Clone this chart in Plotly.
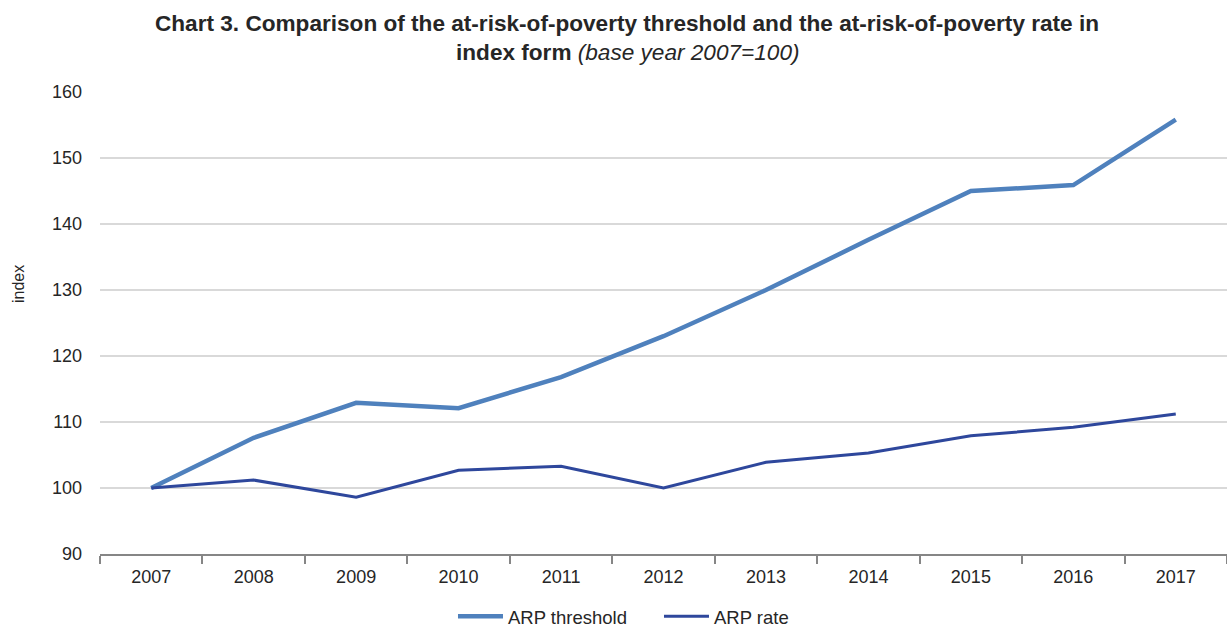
import plotly.graph_objects as go

years = ["2007", "2008", "2009", "2010", "2011", "2012", "2013", "2014", "2015", "2016", "2017"]
arp_threshold = [100.0, 107.6, 112.9, 112.1, 116.8, 123.0, 130.0, 137.6, 145.0, 145.9, 155.8]
arp_rate = [100.0, 101.2, 98.6, 102.7, 103.3, 100.0, 103.9, 105.3, 107.9, 109.2, 111.2]
y_ticks = [90, 100, 110, 120, 130, 140, 150, 160]

FONT = "Liberation Sans, Arial, sans-serif"

fig = go.Figure()
fig.add_trace(go.Scatter(x=years, y=arp_threshold, mode="lines", name="ARP threshold",
                         line=dict(color="#4F81BD", width=4.5)))
fig.add_trace(go.Scatter(x=years, y=arp_rate, mode="lines", name="ARP rate",
                         line=dict(color="#2E479C", width=3)))

fig.update_layout(
    width=1227, height=630,
    margin=dict(l=100, r=0, t=92, b=76, autoexpand=False),
    paper_bgcolor="white", plot_bgcolor="white",
    font=dict(family=FONT, color="#262626", size=17),
    showlegend=True,
    legend=dict(orientation="h", x=0.496, xanchor="center", yref="paper",
                y=-0.136, yanchor="middle", entrywidth=146, itemwidth=45,
                font=dict(size=18.5, color="#262626"), tracegroupgap=0),
    annotations=[
        dict(text="<b>Chart 3. Comparison of the at-risk-of-poverty threshold and the at-risk-of-poverty rate in</b>",
             xref="paper", yref="paper", x=(627 - 100) / 1127, y=(554 - 23) / 462,
             xanchor="center", yanchor="middle", showarrow=False,
             font=dict(size=22.6, color="#262626", family=FONT)),
        dict(text="<b>index form</b> <i>(base year 2007=100)</i>",
             xref="paper", yref="paper", x=(627 - 100) / 1127, y=(554 - 52) / 462,
             xanchor="center", yanchor="middle", showarrow=False,
             font=dict(size=22.6, color="#262626", family=FONT)),
        dict(text="index", xref="paper", yref="paper", x=(18 - 100) / 1127, y=(554 - 284) / 462,
             xanchor="center", yanchor="middle", showarrow=False, textangle=-90,
             font=dict(size=16, color="#262626", family=FONT)),
    ],
)
fig.update_xaxes(type="category", tickson="boundaries", ticks="outside", ticklen=8,
                 tickcolor="#868686", tickwidth=1.5, showline=True, linecolor="#868686",
                 linewidth=2, showgrid=False, tickfont=dict(size=18), range=[-0.5, 10.5],
                 ticklabelstandoff=5, fixedrange=True)
fig.update_yaxes(range=[90, 160], tickvals=y_ticks, showgrid=True, gridcolor="#D9D9D9",
                 gridwidth=1.5, zeroline=False, showline=False, ticks="", ticklen=0,
                 tickfont=dict(size=18), ticklabelstandoff=17)

fig.write_html("out.html")
